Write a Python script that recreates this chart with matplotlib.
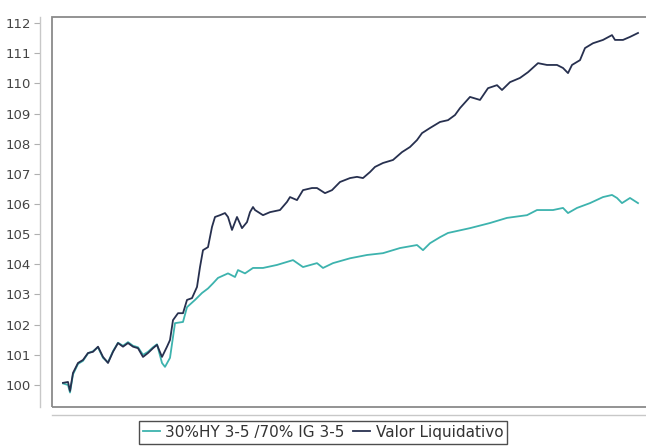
import matplotlib
matplotlib.use("Agg")
import matplotlib.pyplot as plt
from matplotlib.patches import Rectangle

# Data (x = trading-day index, y = index value)
days_fund = [0, 5, 7, 10, 15, 20, 25, 30, 35, 40, 45, 50, 55, 60, 65, 70, 75, 80, 85,
             90, 94, 99, 104, 107, 110, 115, 120, 124, 129, 134, 137, 140, 145, 149,
             152, 157, 162, 165, 169, 174, 179, 184, 187, 190, 192, 200, 207, 217, 224,
             227, 234, 240, 249, 254, 262, 269, 277, 287, 294, 300, 307, 312, 320, 330,
             339, 347, 354, 359, 367, 377, 385, 392, 397, 407, 417, 425, 434, 439, 447,
             457, 465, 475, 484, 494, 500, 505, 509, 517, 522, 530, 540, 549, 552, 560,
             567, 575]
fund = [100.07, 100.10, 99.80, 100.40, 100.73, 100.83, 101.06, 101.10, 101.27, 100.93,
        100.73, 101.10, 101.39, 101.27, 101.39, 101.27, 101.22, 100.93, 101.06, 101.22,
        101.33, 100.93, 101.27, 101.49, 102.15, 102.38, 102.38, 102.82, 102.88, 103.25,
        103.91, 104.47, 104.57, 105.24, 105.57, 105.63, 105.70, 105.57, 105.14, 105.57,
        105.20, 105.40, 105.73, 105.90, 105.80, 105.63, 105.73, 105.80, 106.07, 106.23,
        106.13, 106.46, 106.53, 106.53, 106.36, 106.46, 106.73, 106.86, 106.90, 106.86,
        107.06, 107.23, 107.36, 107.46, 107.72, 107.89, 108.12, 108.35, 108.52, 108.72,
        108.78, 108.95, 109.18, 109.55, 109.45, 109.84, 109.94, 109.78, 110.04, 110.18,
        110.37, 110.67, 110.61, 110.61, 110.51, 110.34, 110.61, 110.77, 111.17, 111.33,
        111.44, 111.60, 111.44, 111.44, 111.54, 111.67]

days_bench = [0, 5, 7, 10, 15, 20, 25, 30, 35, 40, 45, 50, 55, 60, 65, 70, 75, 80, 85,
              90, 94, 99, 102, 107, 112, 120, 124, 132, 139, 145, 150, 155, 165, 172, 175,
              182, 190, 200, 214, 230, 240, 254, 260, 270, 287, 304, 320, 337, 354, 360,
              367, 377, 385, 407, 427, 444, 464, 474, 490, 500, 505, 514, 527, 540, 549,
              554, 559, 567, 575]
bench = [100.05, 100.00, 99.75, 100.35, 100.70, 100.80, 101.05, 101.12, 101.25, 100.90,
         100.75, 101.12, 101.40, 101.30, 101.42, 101.30, 101.25, 101.00, 101.10, 101.25,
         101.35, 100.73, 100.60, 100.90, 102.05, 102.09, 102.58, 102.82, 103.05, 103.20,
         103.37, 103.55, 103.70, 103.58, 103.81, 103.70, 103.88, 103.88, 103.98, 104.14,
         103.91, 104.04, 103.88, 104.04, 104.20, 104.31, 104.37, 104.54, 104.64, 104.47,
         104.70, 104.90, 105.04, 105.20, 105.37, 105.54, 105.63, 105.80, 105.80, 105.87,
         105.70, 105.87, 106.03, 106.23, 106.30, 106.20, 106.03, 106.20, 106.03]

series_labels = ["30%HY 3-5 /70% IG 3-5", "Valor Liquidativo"]
y_ticks = list(range(100, 113))

W, H = 646, 447
fig = plt.figure(figsize=(W / 100, H / 100), dpi=100)
fig.patch.set_facecolor("white")

left_px, right_px, top_px, bottom_px = 52, 652, 17, 407
ax = fig.add_axes([left_px / W, 1 - bottom_px / H,
                   (right_px - left_px) / W, (bottom_px - top_px) / H])

teal = "#3db3ae"
navy = "#27304f"
ax.plot(days_bench, bench, color=teal, lw=1.3, label=series_labels[0], zorder=3)
ax.plot(days_fund, fund, color=navy, lw=1.3, label=series_labels[1], zorder=4)

ax.set_xlim(-11, 589)
ax.set_ylim(99.27, 112.2)
ax.set_yticks(y_ticks)
ax.set_yticklabels([str(v) for v in y_ticks])
ax.set_xticks([])

for s in ("top", "right"):
    ax.spines[s].set_visible(False)
ax.spines["left"].set_position(("outward", 9))
ax.spines["bottom"].set_position(("outward", 6))
ax.spines["left"].set_color("#c8c8c8")
ax.spines["bottom"].set_color("#c8c8c8")
ax.spines["left"].set_linewidth(1.0)
ax.spines["bottom"].set_linewidth(1.0)

ax.add_patch(Rectangle((0, 0), 1, 1, transform=ax.transAxes, fill=False,
                       edgecolor="#8a8a8a", lw=1.3, clip_on=False, zorder=5))

ax.tick_params(axis="y", direction="out", length=4, width=0.8, color="#b0b0b0",
               labelsize=9.5, labelcolor="#444444", pad=2)

leg = fig.legend(loc="upper center", bbox_to_anchor=(0.5, 1 - 421 / H),
                 ncol=2, frameon=True, fontsize=11, handlelength=1.1,
                 handletextpad=0.35, columnspacing=0.6, borderpad=0.25,
                 fancybox=False, edgecolor="#222222", borderaxespad=0)
leg.get_frame().set_linewidth(1.0)
for txt in leg.get_texts():
    txt.set_color("#333333")

fig.savefig("out.png", dpi=100)
